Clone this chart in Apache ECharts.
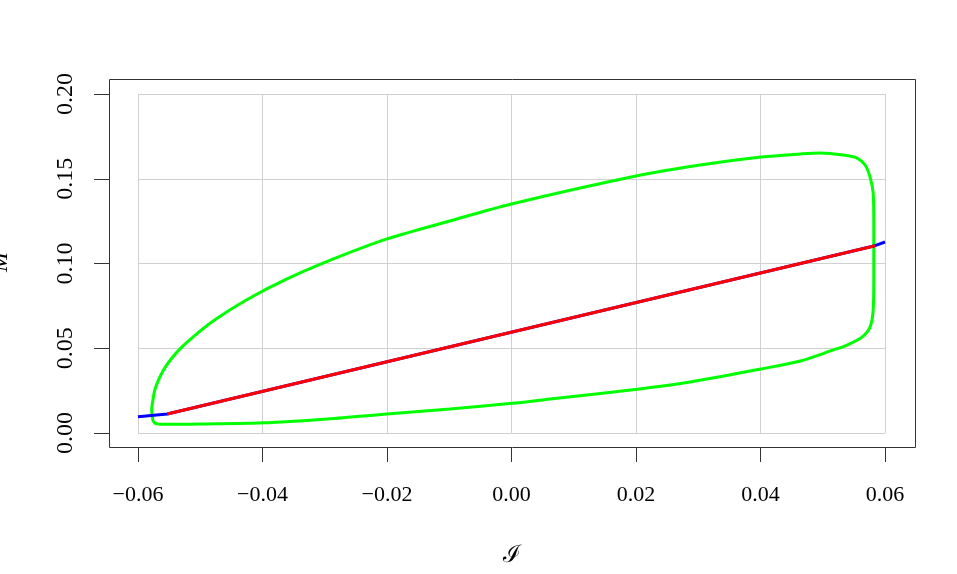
<!DOCTYPE html>
<html>
<head>
<meta charset="utf-8">
<script src="https://cdn.jsdelivr.net/npm/echarts@6/dist/echarts.min.js"></script>
<style>html,body{margin:0;padding:0;background:#fff;}#c{width:957px;height:574px;}</style>
</head>
<body>
<div id="c"></div>
<script>
// Tick values
var xTicks = [-0.06, -0.04, -0.02, 0.00, 0.02, 0.04, 0.06];
var yTicks = [0.00, 0.05, 0.10, 0.15, 0.20];

// Green hysteresis loop (I, M)
var loopX = [-0.0568, -0.0549, -0.0500, -0.0399, -0.0296, -0.0200, -0.0099, 0.0001, 0.0062, 0.0202, 0.0287, 0.0401, 0.0464, 0.0517, 0.0539, 0.0563, 0.0576, 0.0581, 0.0582, 0.0582, 0.0582, 0.0581, 0.0576, 0.0568, 0.0555, 0.0533, 0.0496, 0.0464, 0.0401, 0.0303, 0.0200, 0.0000, -0.0099, -0.0200, -0.0290, -0.0364, -0.0426, -0.0477, -0.0508, -0.0531, -0.0548, -0.0559, -0.0567, -0.0573, -0.0576, -0.0578, -0.0577, -0.0576, -0.0573, -0.0568];
var loopY = [0.0053, 0.0051, 0.0053, 0.0060, 0.0083, 0.0112, 0.0142, 0.0175, 0.0201, 0.0258, 0.0301, 0.0378, 0.0425, 0.0490, 0.0519, 0.0566, 0.0625, 0.0726, 0.0903, 0.1080, 0.1239, 0.1416, 0.1510, 0.1581, 0.1622, 0.1640, 0.1652, 0.1646, 0.1628, 0.1581, 0.1516, 0.1351, 0.1251, 0.1145, 0.1021, 0.0903, 0.0785, 0.0667, 0.0578, 0.0502, 0.0431, 0.0372, 0.0313, 0.0254, 0.0195, 0.0136, 0.0100, 0.0074, 0.0059, 0.0053];

// Blue line
var blueX = [-0.06, -0.0553, 0.0584, 0.06];
var blueY = [0.0096, 0.0112, 0.1105, 0.1127];

// Red line
var redX = [-0.0553, 0.0584];
var redY = [0.0112, 0.1105];

function zip(a, b) { return a.map(function (v, i) { return [v, b[i]]; }); }
function fmt(v) { var s = Math.abs(v).toFixed(2); return v < -1e-9 ? '\u2212' + s : s; }

var chart = echarts.init(document.getElementById('c'), null, { renderer: 'canvas' });
var font = '"Liberation Serif", "Times New Roman", serif';

chart.setOption({
  animation: false,
  backgroundColor: '#ffffff',
  grid: { left: 138, right: 72, top: 94, bottom: 141, containLabel: false },
  xAxis: {
    type: 'value', min: xTicks[0], max: xTicks[xTicks.length - 1], interval: 0.02, offset: 14,
    axisLine: { show: false, onZero: false },
    axisTick: { show: true, length: 15, lineStyle: { color: '#333', width: 1 } },
    axisLabel: { margin: 37, fontFamily: font, fontSize: 22, color: '#000', formatter: fmt },
    splitLine: { show: true, lineStyle: { color: '#d0d0d0', width: 1 } }
  },
  yAxis: {
    type: 'value', min: yTicks[0], max: yTicks[yTicks.length - 1], interval: 0.05, offset: 29,
    axisLine: { show: false, onZero: false },
    axisTick: { show: true, length: 15, lineStyle: { color: '#333', width: 1 } },
    axisLabel: { margin: 31, rotate: 90, fontFamily: font, fontSize: 24, color: '#000', formatter: fmt },
    splitLine: { show: true, lineStyle: { color: '#d0d0d0', width: 1 } }
  },
  graphic: [
    { type: 'rect', silent: true, z: 10,
      shape: { x: 109.5, y: 79.5, width: 806, height: 368 },
      style: { fill: null, stroke: '#333', lineWidth: 1 } },
    { type: 'text', x: 512, y: 556, silent: true,
      style: { text: '\u2110', fontFamily: font, fontSize: 24, fill: '#000',
        textAlign: 'center', textVerticalAlign: 'middle' } },
    { type: 'text', x: 1, y: 262, rotation: Math.PI / 2, silent: true,
      style: { text: 'M', fontFamily: font, fontSize: 24, fontStyle: 'italic', fill: '#000',
        textAlign: 'center', textVerticalAlign: 'middle' } }
  ],
  series: [
    { type: 'line', data: zip(loopX, loopY), showSymbol: false, symbol: 'none', smooth: 0.3,
      lineStyle: { color: '#00ff00', width: 3 }, z: 3, clip: false },
    { type: 'line', data: zip(blueX, blueY), showSymbol: false, symbol: 'none',
      lineStyle: { color: '#0000ff', width: 3 }, z: 4, clip: false },
    { type: 'line', data: zip(redX, redY), showSymbol: false, symbol: 'none',
      lineStyle: { color: '#ff0000', width: 3 }, z: 5, clip: false }
  ]
});
</script>
</body>
</html>
